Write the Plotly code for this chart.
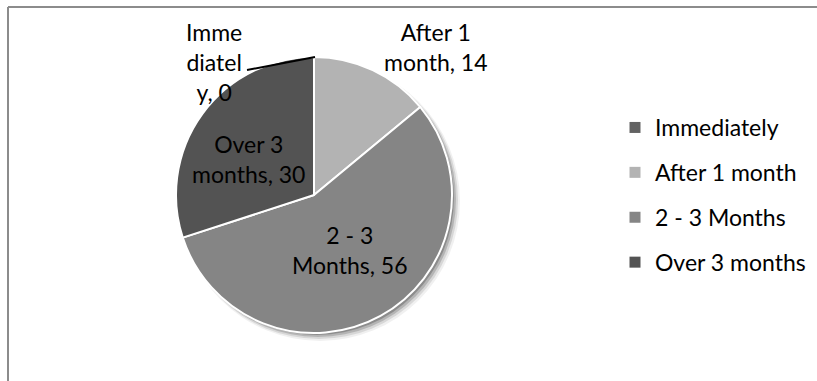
import plotly.graph_objects as go

# Survey answers: when the change was noticed
categories = ["Immediately", "After 1 month", "2 - 3 Months", "Over 3 months"]
values = [0, 14, 56, 30]
# Data label names as they wrap on the chart
wrapped_names = ["Imme<br>diatel<br>y", "After 1<br>month", "2 - 3<br>Months", "Over 3<br>months"]
colors = ["#626262", "#b3b3b3", "#858585", "#535353"]

W, H = 817, 381
FONT = "Lato"
FS = 23

# Pie geometry in pixels
cx, cy, r = 314, 195, 138


def dom(x0, x1, y0, y1):
    """Pixel box (top-left origin) -> paper domain."""
    return dict(x=[x0 / W, x1 / W], y=[1 - y1 / H, 1 - y0 / H])


fig = go.Figure()

# Soft drop shadow beneath the pie
for off, grow, alpha in [(6, 2, 0.06), (5, 1, 0.10), (4, 0, 0.16), (3, -1, 0.22)]:
    fig.add_trace(go.Pie(
        values=[1], labels=["shadow"], sort=False, showlegend=False,
        textinfo="none", hoverinfo="skip",
        marker=dict(colors=[f"rgba(0,0,0,{alpha})"], line=dict(width=0)),
        domain=dom(cx - r - grow + off, cx + r + grow + off,
                   cy - r - grow + off, cy + r + grow + off),
    ))

fig.add_trace(go.Pie(
    labels=categories, values=values, sort=False, direction="clockwise",
    rotation=0, textinfo="none", showlegend=False,
    marker=dict(colors=colors, line=dict(color="white", width=2)),
    domain=dom(cx - r, cx + r, cy - r, cy + r),
))

# Legend entries
for name, col in zip(categories, colors):
    fig.add_trace(go.Scatter(
        x=[None], y=[None], mode="markers", name=name, legendgroup=name,
        marker=dict(symbol="square", size=11, color=col, line=dict(width=0)),
    ))

# Data labels: "<name>, <value>" (positions are the top of each text block)
label_top = [(214, 16), (436, 16), (350, 219), (248, 128)]
for txt, v, (lx, ly) in zip(wrapped_names, values, label_top):
    fig.add_annotation(
        x=lx / W, y=1 - ly / H, xref="paper", yref="paper",
        xanchor="center", yanchor="top",
        text=f"{txt}, {v}", showarrow=False, align="center",
        font=dict(family=FONT, size=FS, color="black"),
    )

# Leader line from the "Immediately" label to its slice at the top of the pie
fig.add_shape(type="line", xref="paper", yref="paper",
              x0=247 / W, y0=1 - 70 / H, x1=cx / W + 1 / W, y1=1 - (cy - r) / H,
              line=dict(color="black", width=2))

# Chart-area frame (top and left edges)
fig.add_shape(type="line", xref="paper", yref="paper",
              x0=8 / W, y0=1 - 7 / H, x1=1, y1=1 - 7 / H,
              line=dict(color="#8c8c8c", width=2))
fig.add_shape(type="line", xref="paper", yref="paper",
              x0=8 / W, y0=1 - 7 / H, x1=8 / W, y1=0,
              line=dict(color="#8c8c8c", width=2))

fig.update_layout(
    width=W, height=H, margin=dict(l=0, r=0, t=0, b=0),
    paper_bgcolor="white", plot_bgcolor="white",
    xaxis=dict(visible=False), yaxis=dict(visible=False),
    legend=dict(
        x=615 / W, y=1 - 106 / H, xanchor="left", yanchor="top",
        font=dict(family=FONT, size=FS, color="black"),
        tracegroupgap=12, itemsizing="trace",
        bgcolor="rgba(0,0,0,0)",
    ),
)

fig.write_html("out.html")
